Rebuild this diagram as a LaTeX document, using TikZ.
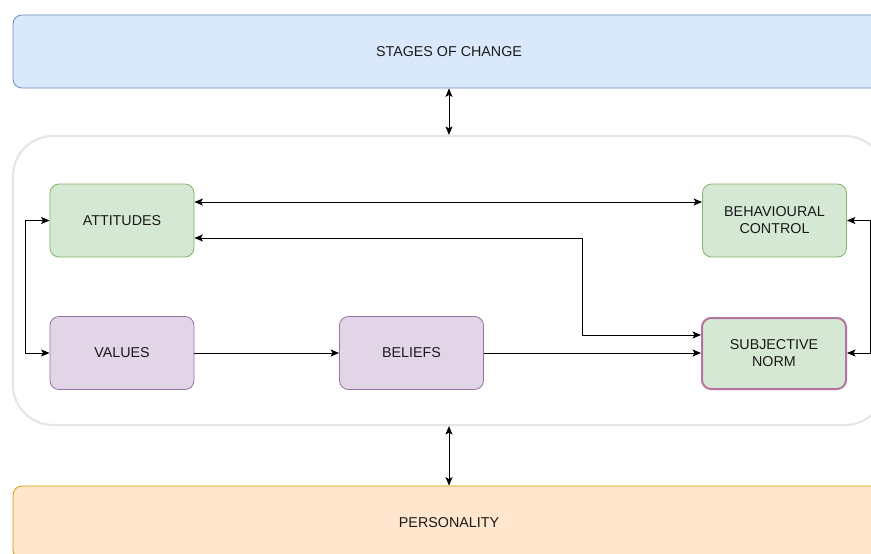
\documentclass[tikz,border=0pt]{standalone}
\usepackage{fontspec}
\setmainfont{Liberation Sans}
\usetikzlibrary{arrows.meta,positioning}
\definecolor{blueF}{HTML}{DAE8FC}\definecolor{blueD}{HTML}{6C8EBF}
\definecolor{greenF}{HTML}{D5E8D4}\definecolor{greenD}{HTML}{82B366}
\definecolor{purpF}{HTML}{E1D5E7}\definecolor{purpD}{HTML}{9673A6}
\definecolor{orangeF}{HTML}{FFE6CC}\definecolor{orangeD}{HTML}{D79B00}
\definecolor{normD}{HTML}{B5739D}
\definecolor{frameD}{HTML}{E6E6E6}
\begin{document}
\begin{tikzpicture}[x=1pt,y=-1pt,
  every node/.style={font=\fontsize{14.3}{17}\selectfont, text=black!90, align=center, inner sep=0pt},
  band/.style={rounded corners=9pt, line width=0.8pt},
  card/.style={rounded corners=9pt, line width=0.8pt, minimum width=144pt, minimum height=73pt},
  greencard/.style={card, draw=greenD, fill=greenF},
  purplecard/.style={card, draw=purpD, fill=purpF},
  link/.style={line width=0.9pt, {Stealth[length=8.5pt,width=7pt,inset=2pt]}-{Stealth[length=8.5pt,width=7pt,inset=2pt]}},
  onelink/.style={line width=0.9pt, -{Stealth[length=8.5pt,width=7pt,inset=2pt]}}]
\useasboundingbox (0,0) rectangle (871,554);
% outer bands
\node[band, draw=blueD, fill=blueF, minimum width=872pt, minimum height=73pt] (stages) at (449,51.5) {STAGES OF CHANGE};
\node[draw=frameD, line width=2.2pt, rounded corners=40pt, minimum width=872pt, minimum height=289pt] (frame) at (449,280.5) {};
\node[band, draw=orangeD, fill=orangeF, minimum width=872pt, minimum height=73pt] (person) at (449,522.5) {PERSONALITY};
% inner cards
\node[greencard] (att) at (122,220.5) {ATTITUDES};
\node[greencard] (bc) at (774.5,220.5) {BEHAVIOURAL\\CONTROL};
\node[purplecard] (val) at (122,353) {VALUES};
\node[purplecard] (bel) at (411.5,353) {BELIEFS};
\node[card, draw=normD, fill=greenF, line width=2pt, minimum width=144pt, minimum height=71pt] (sn) at (774,353.5) {SUBJECTIVE\\NORM};
% connectors
\draw[link] (stages.south -| 449,0) -- (frame.north -| 449,0);
\draw[link] (frame.south -| 449,0) -- (person.north -| 449,0);
\draw[link] (att.east |- 0,202) -- (bc.west |- 0,202);
\draw[link] (att.west) -- (25,220.5) -- (25,353) -- (val.west);
\draw[link] (att.east |- 0,238) -- (582,238) -- (582,335) -- (sn.west |- 0,335);
\draw[onelink] (val.east) -- (bel.west);
\draw[onelink] (bel.east) -- (sn.west |- 0,353);
\draw[link] (bc.east) -- (870,220.5) -- (870,353) -- (sn.east |- 0,353);
\end{tikzpicture}
\end{document}
